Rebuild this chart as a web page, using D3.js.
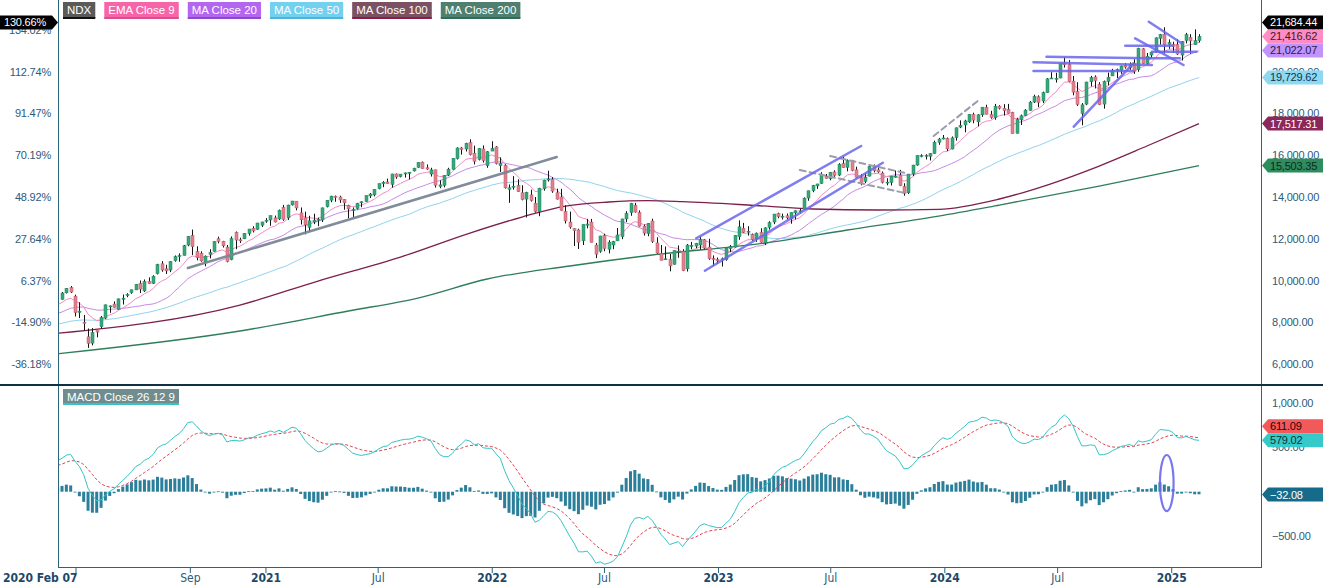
<!DOCTYPE html>
<html><head><meta charset="utf-8">
<script src="https://cdn.jsdelivr.net/npm/d3@7"></script>
<style>
html,body{margin:0;padding:0;background:#fff;}
svg{display:block;font-family:"Liberation Sans",Arial,sans-serif;}
</style></head><body>
<svg id="chart" width="1323" height="586"></svg>
<script>
// ---------------- DATA ----------------
const firstWeek = "2020-02-07";
const baseClose = 9401.1;
// weekly closes before the first visible week (2019-02-15 .. 2020-01-31), used to seed indicators
const preCloses = [7098,7127,7152,6953,7287,7273,7378,7560,7628,7640,7815,7845,7652,7539,7427,7127,7461,7522,7727,7671,7849,7949,7844,7998,7562,7603,7585,7419,7662,7817,7905,7851,7725,7782,7904,7952,8059,8163,8283,8393,8326,8403,8406,8522,8737,8810,8793,8957,9143,9122,8992];
const opens = [
 9100,9410,9660,9250,8470,8000,7300,7000,7600,7790,8200,8760,8870,8620,9100,9270,9420,9550,9850,9500,9950,9860,10330,10800,10560,10500,10950,11150,11200,11700,12150,11380,11300,10850,11250,11400,12000,11880,11600,11000,12300,11950,12000,12260,12500,12450,12650,12850,
 12900,13000,12950,13500,13000,13620,13800,13240,13000,12550,12800,12900,12900,13540,13850,14030,14000,13890,13600,13400,13450,13750,13780,14050,14100,14400,14640,14720,14600,15100,14980,15100,15150,15250,15420,15670,15400,15100,15300,14500,14560,15050,15320,15850,16350,16300,16600,16100,15800,16300,15500,16200,
 16400,15500,15500,14370,14500,14550,14200,13900,14100,13700,13300,14400,14850,14850,14200,14000,13300,12800,12480,12420,11900,12650,12800,11700,11400,12150,11500,11700,11900,12100,12950,13250,13600,13250,12600,12250,12850,11800,11300,11000,11000,10780,11400,11400,10560,11650,11650,11700,11950,11600,11050,11000,
 11000,11000,11530,11600,12100,12500,12350,12200,12000,12300,11800,12550,12800,13200,13050,13100,12950,13240,13300,13400,13950,14300,14530,14650,15000,14880,15200,15050,15600,15420,15760,15300,14930,14750,15000,15480,15300,15150,14700,14700,14950,15050,14500,14200,15100,15530,15980,15990,15950,16090,16620,16780,
 16800,16300,16850,17350,17450,17600,17950,17600,17940,18300,17950,17800,18350,18250,18200,18050,17050,17700,17900,18150,18550,18800,18600,19000,19700,19680,19700,20400,20350,19550,19050,18000,18450,19520,19750,19400,18450,19540,19800,20060,20050,20300,20200,20400,20100,21100,20400,20800,20950,21600,21800,21300,21300,21300,20800,21500,21650,21300,21500];
const highs = [
 9450,9630,9736,9320,8960,8350,7700,7720,7600,8300,8850,8800,9000,9130,9330,9390,9560,9830,10000,10050,10150,10250,10800,10930,10750,10920,11200,11300,11700,12130,12440,11640,11400,11200,11500,11880,12100,11900,11700,12110,12350,12050,12270,12470,12600,12760,12810,12990,
 13110,13110,13400,13620,13630,13810,13800,13500,13300,13100,13200,13010,13490,13850,14060,14070,14060,13900,13630,13500,13720,13790,14070,14190,14380,14640,14760,14880,15110,15130,15100,15170,15190,15400,15660,15700,15560,15400,15310,14800,15040,15400,15860,16380,16400,16600,16765,16460,16350,16470,16200,16670,
 16440,15900,15570,14600,15000,14850,14560,14250,14350,14000,14440,14830,15260,14950,14400,14390,13600,13300,12500,12480,12680,12950,12950,11800,12140,12240,11930,11900,12520,12960,13320,13720,13720,13360,12680,12750,12960,12070,11700,11630,11270,11440,11680,11500,11750,11850,11800,12100,11990,12000,11200,11100,
 11100,11550,11700,12170,12880,12760,12600,12250,12300,12500,12550,12840,13190,13250,13200,13210,13260,13360,13440,13980,14300,14580,14630,15190,15100,15200,15280,15620,15932,15800,15780,15450,15100,15150,15500,15560,15480,15220,14900,15000,15270,15300,14660,15100,15540,16000,16050,16050,16090,16700,16830,16970,
 16850,16900,17330,17670,17700,17970,18040,17970,18310,18420,18130,18460,18400,18450,18460,18080,17790,17950,18210,18600,18900,18870,19050,19700,19980,19950,20400,20690,20560,19800,19500,18500,19520,19800,19830,19500,19580,19960,20140,20150,20300,20420,20450,20600,21150,21140,20900,20950,21650,21810,22130,21550,21440,21560,21470,21860,21800,22030,21800];
const lows = [
 9080,9380,9400,8275,8200,7600,6771,6890,7280,7700,8150,8450,8700,8610,8850,9200,9360,9550,9400,9450,9840,9830,10290,10420,10310,10400,10900,10900,11200,11640,11220,10960,10900,10680,11060,11380,11780,11580,10870,10970,11500,11800,11980,12150,12300,12430,12560,12760,
 12620,12780,12900,12860,12900,13590,13360,12680,12210,12330,12700,12600,12800,13500,13750,13770,13720,13390,12980,13030,13400,13510,13770,13950,14030,14370,14470,14640,14450,14870,14940,14930,14840,15220,15400,15360,15300,14980,14450,14420,14460,15000,15320,15800,16030,16180,15990,15560,15750,15650,15400,16200,
 15560,15200,14400,13720,14350,14240,13840,13020,13780,13250,13080,14300,14740,14200,13880,13350,12730,12480,11650,11510,11700,12500,11830,11070,11330,11400,11300,11500,11900,11980,12800,13100,13250,12580,12150,12120,11800,11280,10970,11000,10440,10760,11090,10450,10430,11500,11550,11480,11500,10990,10700,10800,
 10670,10950,11360,11580,11950,12270,12150,11900,11850,11810,11700,12440,12700,12980,12920,12920,12720,12920,13200,13390,13820,14230,14390,14630,14880,14800,14950,15000,15400,15230,15230,14920,14560,14660,14990,15180,15160,14650,14560,14550,14930,14520,14060,14140,15000,15500,15900,15800,15750,16070,16500,16760,
 16200,16280,16700,17300,17100,17550,17530,17380,17840,17960,17750,17700,18190,17900,17990,17030,17050,17450,17880,18130,18500,18300,18500,18990,19680,19480,19690,20200,19500,18870,18360,17434,18400,19300,19200,18400,18230,19350,19800,19700,19900,20150,20090,19900,20000,20380,20350,20650,20910,21300,20870,21100,20900,20800,20540,21360,20860,21300,21400];
const closes = [
 9401,9623,9446,8462,8531,7995,6994,7502,7528,8230,8833,8784,8718,9121,9152,9325,9555,9814,9589,9946,9850,10207,10767,10503,10461,10905,11139,11193,11665,12111,11623,11088,10938,11168,11332,11865,11872,11663,10912,12005,11937,11898,12259,12465,12376,12755,12805,12888,
 13106,12803,13366,12925,13613,13808,13475,12909,12668,12858,12890,12935,13480,13845,14041,13982,13860,13720,13430,13405,13687,13771,14069,14141,14360,14640,14703,14643,15103,14959,15098,15154,15181,15380,15652,15366,15340,15301,14567,14580,15025,15335,15850,16349,16275,16573,16025,15712,16331,15740,16167,16320,
 15600,15611,14439,14440,14516,14254,13870,14223,13838,13302,14421,14807,14861,14283,13898,13358,12855,12566,12387,11835,12681,12706,11830,11265,12132,11528,11836,11861,12180,12947,13207,13700,13280,12605,12272,12739,11861,11311,10971,11039,10700,11431,11405,10475,11699,11677,11786,11962,11551,11047,11036,10940,
 11040,11541,11619,12166,12573,12305,12358,11956,12268,11831,12520,12767,13181,13062,13080,13000,13246,13340,13340,13945,14298,14547,14625,15083,14891,15180,15036,15565,15403,15750,15274,14948,14694,14942,15468,15262,15202,14701,14715,14996,15000,14544,14180,15099,15529,15983,15982,15997,16085,16624,16777,16826,
 16306,16832,17314,17421,17643,17962,17685,17937,18302,17966,17808,18339,18255,18140,18003,17037,17718,17891,18161,18546,18809,18537,19000,19659,19701,19683,20392,20332,19523,19023,18440,18414,19508,19720,19575,18422,19534,19736,20061,20102,20272,20225,20352,20033,21117,20395,20741,20930,21623,21781,21290,21393,21213,20847,21442,21774,21478,21491,21684.44];

// long moving averages (date, value)
const ma100Dates = ["2020-01-31","2020-11-20","2021-03-26","2021-08-06","2021-11-26","2022-02-18","2022-04-29","2022-07-08","2022-09-09","2022-11-04","2023-02-17","2023-06-02","2023-09-15","2023-12-22","2024-03-29","2024-06-14","2024-09-06","2024-11-22","2025-02-14"];
const ma100Values = [7470,8826,9976,11125,12275,13041,13568,13760,13822,13774,13616,13425,13377,13410,13904,14574,15484,16442,17517.31];
const ma200Dates = ["2020-01-31","2020-11-20","2021-05-14","2021-09-03","2021-12-24","2022-05-06","2022-09-16","2023-03-17","2023-07-28","2023-12-22","2024-03-29","2024-09-06","2025-02-14"];
const ma200Values = [6490,7581,8539,9161,10072,10694,11221,11796,12419,13089,13616,14526,15503.35];

// last values shown in the axis tags
const priceTagNames = ["NDX","EMA Close 9","MA Close 20","MA Close 50","MA Close 100","MA Close 200"];
const priceTagValues = [21684.44,21416.62,21022.07,19729.62,17517.31,15503.35];
const macdTagNames = ["Signal","MACD","Histogram"];
const macdTagValues = [611.09,579.02,-32.08];

const legendLabels = ["NDX","EMA Close 9","MA Close 20","MA Close 50","MA Close 100","MA Close 200"];
const macdLabel = "MACD Close 26 12 9";

const priceTicks = [6000,8000,10000,12000,14000,16000,18000,20000,22000];
const macdTicks = [-500,500,1000];
const timeTickDates = ["2020-09-01","2021-01-01","2021-07-01","2022-01-01","2022-07-01","2023-01-01","2023-07-01","2024-01-01","2024-07-01","2025-01-01"];
const timeTickLabels = ["Sep","2021","Jul","2022","Jul","2023","Jul","2024","Jul","2025"];
const firstLabel = "2020 Feb 07";

// drawn annotations: [date1, price1, date2, price2]
const greyLines = [["2020-08-28",10598,"2022-04-15",15915]];
const dashedLines = [
 ["2023-05-12",15293,"2023-10-31",14177],
 ["2023-06-30",15963,"2023-10-31",15135],
 ["2023-12-14",16921,"2024-02-23",18598]];
const blueLines = [
 ["2022-11-26",12021,"2023-08-19",16442],
 ["2022-12-10",10469,"2023-09-23",15642],
 ["2024-06-13",20720,"2024-11-27",20643],
 ["2024-05-23",20451,"2024-11-30",20322],
 ["2024-05-23",20035,"2024-10-31",20035],
 ["2024-11-22",20643,"2025-01-14",20643],
 ["2024-10-18",21247,"2025-01-02",21247],
 ["2024-11-30",20959,"2025-02-10",20959],
 ["2024-07-27",17367,"2024-10-31",20404],
 ["2024-11-25",22396,"2025-01-17",21362],
 ["2024-11-03",21601,"2025-01-20",20322]];
// ellipse on MACD panel: [centre date, centre value, half width (days), half height (MACD units)]
const macdEllipse = ["2024-12-24",98,11,316];

// ---------------- CHART ----------------
const svg = d3.select("#chart");
const parse = d3.timeParse("%Y-%m-%d");
const start = parse(firstWeek);
const dates = closes.map((c,i)=>d3.timeDay.offset(start,7*i));
const allCloses = preCloses.concat(closes);
const allDates = preCloses.map((c,i)=>d3.timeDay.offset(start,-7*(preCloses.length-i))).concat(dates);

const plotL=58, plotR=1261, mainB=384, macdT=386, macdB=567;
const x = d3.scaleTime().domain([start, dates[dates.length-1]]).range([62,1199]);
const y = d3.scaleLinear().domain([5090,23437]).range([383,0]);
const ym = d3.scaleLinear().domain([-849,1192]).range([567,386]);

function ema(arr,n){const k=2/(n+1);let e=arr[0];return arr.map((v,i)=>{e=i?v*k+e*(1-k):v;return e;});}
function sma(arr,n){return arr.map((v,i)=>d3.mean(arr.slice(Math.max(0,i-n+1),i+1)));}
const ema9 = ema(allCloses,9), ma20 = sma(allCloses,20), ma50 = sma(allCloses,50);
const e12 = ema(allCloses,12), e26 = ema(allCloses,26);
const macd = e12.map((v,i)=>v-e26[i]);
const signal = ema(macd,9);
const hist = macd.map((v,i)=>v-signal[i]);
const firstShown = preCloses.length-1;
const idxShown = d3.range(firstShown, allCloses.length);

const defs = svg.append("defs");
defs.append("clipPath").attr("id","cm").append("rect").attr("x",plotL+1).attr("y",0).attr("width",plotR-plotL-1).attr("height",mainB);
defs.append("clipPath").attr("id","cd").append("rect").attr("x",plotL+1).attr("y",macdT).attr("width",plotR-plotL-1).attr("height",macdB-macdT);

const gMain = svg.append("g").attr("clip-path","url(#cm)");
const gMacd = svg.append("g").attr("clip-path","url(#cd)");

// moving averages
const lineIdx = (arr)=>d3.line().x(i=>x(allDates[i])).y(i=>y(arr[i]));
[[ma50,"#8fd3ee",1],[ma20,"#c58be6",1],[ema9,"#f38cc3",1]].forEach(([arr,col,w])=>{
  gMain.append("path").attr("d",lineIdx(arr)(idxShown)).attr("fill","none").attr("stroke",col).attr("stroke-width",w);
});
const lineDV = d3.line().x(d=>x(parse(d[0]))).y(d=>y(d[1])).curve(d3.curveMonotoneX);
gMain.append("path").attr("d",lineDV(d3.zip(ma200Dates,ma200Values))).attr("fill","none").attr("stroke","#2f7d5a").attr("stroke-width",1.3);
gMain.append("path").attr("d",lineDV(d3.zip(ma100Dates,ma100Values))).attr("fill","none").attr("stroke","#7d1f4c").attr("stroke-width",1.3);

// candles
const cg = gMain.append("g");
closes.forEach((c,i)=>{
  const xi = Math.round(x(dates[i]))+0.5;
  const up = c>=opens[i];
  cg.append("line").attr("x1",xi).attr("x2",xi).attr("y1",y(highs[i])).attr("y2",y(lows[i])).attr("stroke","#151515").attr("stroke-width",1);
  const top = y(Math.max(opens[i],c)), bot = y(Math.min(opens[i],c));
  cg.append("rect").attr("x",xi-1.5).attr("y",top).attr("width",3).attr("height",Math.max(1,bot-top))
    .attr("fill",up?"#35a97c":"#e4808c").attr("stroke",up?"#23805a":"#b9596a").attr("stroke-width",0.5);
});

// annotations
const segLine = (g,arr,col,w,dash,op)=>arr.forEach(s=>{
  g.append("line").attr("x1",x(parse(s[0]))).attr("y1",y(s[1])).attr("x2",x(parse(s[2]))).attr("y2",y(s[3]))
   .attr("stroke",col).attr("stroke-width",w).attr("stroke-dasharray",dash).attr("opacity",op).attr("stroke-linecap","round");
});
segLine(gMain,greyLines,"#7b8594",2.5,null,0.95);
segLine(gMain,dashedLines,"#9c9cae",2,"6,4",1);
segLine(gMain,blueLines,"#6b67ee",2.5,null,0.85);

// MACD panel
const bw = 3;
idxShown.forEach(i=>{
  const v = hist[i];
  gMacd.append("rect").attr("x",x(allDates[i])-bw/2).attr("width",bw)
    .attr("y",Math.min(ym(v),ym(0))).attr("height",Math.max(0.8,Math.abs(ym(v)-ym(0)))).attr("fill","#2c7f9a");
});
const mline = (arr)=>d3.line().x(i=>x(allDates[i])).y(i=>ym(arr[i]));
gMacd.append("path").attr("d",mline(signal)(idxShown)).attr("fill","none").attr("stroke","#e0434f").attr("stroke-width",1).attr("stroke-dasharray","3,2");
gMacd.append("path").attr("d",mline(macd)(idxShown)).attr("fill","none").attr("stroke","#36c3c6").attr("stroke-width",1);
{
  const cx = x(parse(macdEllipse[0])), cy = ym(macdEllipse[1]);
  const rx = x(d3.timeDay.offset(parse(macdEllipse[0]),macdEllipse[2]))-cx;
  const ry = ym(0)-ym(macdEllipse[3]);
  gMacd.append("ellipse").attr("cx",cx).attr("cy",cy).attr("rx",rx).attr("ry",ry).attr("fill","none").attr("stroke","#6b67ee").attr("stroke-width",2.2).attr("opacity",0.9);
}

// frame
const frameCol = "#2a6478";
svg.append("line").attr("x1",plotL+0.5).attr("x2",plotL+0.5).attr("y1",0).attr("y2",macdB).attr("stroke",frameCol);
svg.append("line").attr("x1",plotR+0.5).attr("x2",plotR+0.5).attr("y1",0).attr("y2",macdB).attr("stroke",frameCol);
svg.append("line").attr("x1",plotL).attr("x2",plotR+1).attr("y1",macdB+0.5).attr("y2",macdB+0.5).attr("stroke",frameCol);
svg.append("line").attr("x1",0).attr("x2",1323).attr("y1",385).attr("y2",385).attr("stroke","#0f3243").attr("stroke-width",2);

// axes text
const axCol = "#2d5a7a";
const FS = 11, LS = -0.2;
const fmtP = d3.format(",.2f");
priceTicks.forEach(t=>{
  svg.append("text").attr("x",1272).attr("y",y(t)+4).attr("font-size",FS).attr("letter-spacing",LS).attr("fill",axCol).text(fmtP(t));
  svg.append("text").attr("x",51).attr("y",y(t)+4).attr("font-size",FS).attr("letter-spacing",LS).attr("fill",axCol).attr("text-anchor","end")
    .text(((t/baseClose-1)*100).toFixed(2)+"%");
});
macdTicks.forEach(t=>{
  svg.append("text").attr("x",1272).attr("y",ym(t)+4).attr("font-size",FS).attr("letter-spacing",LS).attr("fill",axCol).text(fmtP(t));
});
const narrow = '"Liberation Sans Narrow","Arial Narrow","DejaVu Sans Condensed",sans-serif';
timeTickDates.forEach((d,i)=>{
  const xt = x(parse(d));
  svg.append("line").attr("x1",xt).attr("x2",xt).attr("y1",macdB).attr("y2",macdB+6).attr("stroke",frameCol);
  const bold = /^\d{4}$/.test(timeTickLabels[i]);
  svg.append("text").attr("x",xt).attr("y",582).attr("text-anchor","middle").attr("font-size",12)
    .attr("font-family",narrow).attr("font-weight",bold?"bold":"normal").attr("fill",bold?"#1d4868":"#2d5a7a").text(timeTickLabels[i]);
});
svg.append("line").attr("x1",76).attr("x2",76).attr("y1",macdB).attr("y2",macdB+6).attr("stroke",frameCol);
svg.append("text").attr("x",3).attr("y",582).attr("font-size",12).attr("font-family",narrow).attr("font-weight","bold").attr("fill","#1d4868").text(firstLabel);

// legend
const legBg = ["#5a5a5a","#f765a9","#b366f0","#74d0ef","#7b5262","#4f7f6e"];
const legLine = ["#111","#d94d92","#8e48cc","#4fb3d6","#8a1c4c","#2f6e55"];
let lx = 63;
legendLabels.forEach((t,i)=>{
  const g = svg.append("g");
  const txt = g.append("text").attr("x",lx+4).attr("y",14).attr("font-size",11.5).attr("fill","#fff").text(t);
  const w = txt.node().getComputedTextLength()+8;
  g.insert("rect","text").attr("x",lx).attr("y",2).attr("width",w).attr("height",16).attr("fill",legBg[i]);
  g.append("rect").attr("x",lx).attr("y",17).attr("width",w).attr("height",2).attr("fill",legLine[i]);
  lx += w+9;
});
{
  const g = svg.append("g");
  const txt = g.append("text").attr("x",67).attr("y",401).attr("font-size",11.5).attr("fill","#fff").text(macdLabel);
  const w = txt.node().getComputedTextLength()+8;
  g.insert("rect","text").attr("x",63).attr("y",389).attr("width",w).attr("height",15).attr("fill","#6f8d8e");
  g.append("rect").attr("x",63).attr("y",403).attr("width",w).attr("height",2).attr("fill","#36c3c6");
}

// tags
function stack(ys){ // push tags up so they do not overlap
  const order = d3.range(ys.length).sort((a,b)=>ys[b]-ys[a]);
  const out = ys.slice(); let prev = Infinity;
  order.forEach(k=>{ out[k] = Math.min(out[k], prev-14); prev = out[k]; });
  return out;
}
function rightTag(yy,text,bg,fg){
  svg.append("path").attr("d",`M1262,${yy} L1268,${yy-7} L1323,${yy-7} L1323,${yy+7} L1268,${yy+7} Z`).attr("fill",bg);
  svg.append("text").attr("x",1270).attr("y",yy+4).attr("font-size",FS).attr("letter-spacing",LS).attr("fill",fg).text(text);
}
const pBg = ["#000000","#ff8cc5","#c393fb","#8fd8f1","#8b2859","#2f8c5f"];
const pFg = ["#ffffff","#3a1b2a","#2b1a40","#10364a","#ffffff","#0e2a1c"];
const pY = stack(priceTagValues.map(v=>y(v)));
priceTagValues.forEach((v,i)=>rightTag(pY[i],fmtP(v),pBg[i],pFg[i]));
const mBg = ["#f2595a","#35c9c9","#176b8a"];
const mFg = ["#2a0808","#0b3333","#ffffff"];
const mY = stack(macdTagValues.map(v=>ym(v)));
macdTagValues.forEach((v,i)=>rightTag(mY[i],fmtP(v),mBg[i],mFg[i]));
{
  const yy = pY[0];
  svg.append("path").attr("d",`M0,${yy-7} L52,${yy-7} L58,${yy} L52,${yy+7} L0,${yy+7} Z`).attr("fill","#000");
  svg.append("text").attr("x",4).attr("y",yy+4).attr("font-size",FS).attr("letter-spacing",LS).attr("fill","#fff")
    .text(((priceTagValues[0]/baseClose-1)*100).toFixed(2)+"%");
}
</script>
</body></html>
